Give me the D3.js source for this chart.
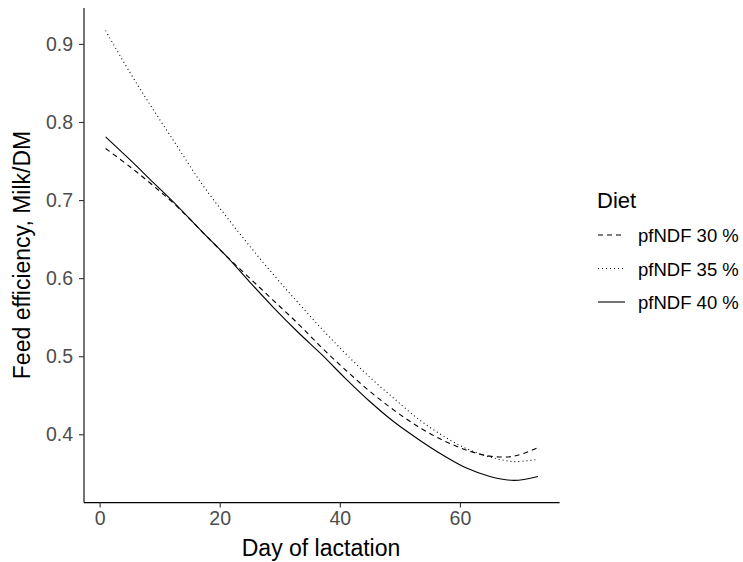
<!DOCTYPE html>
<meta charset="utf-8">
<script src="https://d3js.org/d3.v7.min.js"></script>
<style>
  body { margin: 0; background: #fff; }
  text { font-family: "Liberation Sans", Arial, sans-serif; }
</style>
<div id="my_dataviz"></div>
<script>

// day of lactation
var days = [1, 5, 9, 13, 17, 21, 25, 29, 33, 37, 41, 45, 49, 53, 57, 61, 65, 69, 73];

// feed efficiency per diet
var pf30 = [0.766, 0.743, 0.718, 0.691, 0.660, 0.629, 0.600, 0.571, 0.542, 0.511,
            0.482, 0.455, 0.431, 0.410, 0.393, 0.380, 0.372, 0.372, 0.383];
var pf35 = [0.917, 0.864, 0.815, 0.768, 0.721, 0.680, 0.641, 0.604, 0.569, 0.535,
            0.503, 0.473, 0.446, 0.420, 0.399, 0.382, 0.371, 0.365, 0.368];
var pf40 = [0.781, 0.752, 0.722, 0.692, 0.660, 0.629, 0.595, 0.562, 0.531, 0.502,
            0.471, 0.442, 0.416, 0.394, 0.374, 0.357, 0.346, 0.341, 0.346];

var dietLabels = ["pfNDF 30 %", "pfNDF 35 %", "pfNDF 40 %"];
var dashes = ["5,4", "1,3", null];
var xTicks = [0, 20, 40, 60];
var yTicks = [0.4, 0.5, 0.6, 0.7, 0.8, 0.9];

var series = [pf30, pf35, pf40];

var W = 743, H = 562;
var svg = d3.select("#my_dataviz")
  .append("svg")
    .attr("width", W)
    .attr("height", H);

var x = d3.scaleLinear().domain([-2.6, 76.6]).range([84, 559.6]);
var y = d3.scaleLinear().domain([0.3125, 0.946]).range([502.6, 8]);

// X axis
var gx = svg.append("g")
  .attr("transform", "translate(0,502.6)")
  .call(d3.axisBottom(x).tickValues(xTicks).tickSize(5).tickPadding(4));
gx.select(".domain").attr("stroke", "#000").attr("stroke-width", 1.1)
  .attr("d", "M84,0H559.6");
gx.selectAll(".tick line").attr("stroke", "#333").attr("stroke-width", 1.1);
gx.selectAll(".tick text").attr("fill", "#4d4d4d").attr("font-size", "19.5px")
  .attr("font-family", "Liberation Sans, Arial, sans-serif");

// Y axis
var gy = svg.append("g")
  .attr("transform", "translate(84,0)")
  .call(d3.axisLeft(y).tickValues(yTicks).tickFormat(d3.format(".1f")).tickSize(5).tickPadding(6));
gy.select(".domain").attr("stroke", "#000").attr("stroke-width", 1.1)
  .attr("d", "M0,502.6V8");
gy.selectAll(".tick line").attr("stroke", "#333").attr("stroke-width", 1.1);
gy.selectAll(".tick text").attr("fill", "#4d4d4d").attr("font-size", "19.5px")
  .attr("font-family", "Liberation Sans, Arial, sans-serif");

// axis titles
svg.append("text")
  .attr("x", 321).attr("y", 556)
  .attr("text-anchor", "middle")
  .attr("font-size", "23px")
  .text("Day of lactation");

svg.append("text")
  .attr("transform", "translate(30,255)rotate(-90)")
  .attr("text-anchor", "middle")
  .attr("font-size", "23px")
  .text("Feed efficiency, Milk/DM");

// lines
var line = d3.line()
  .x(function(d) { return x(d[0]); })
  .y(function(d) { return y(d[1]); })
  .curve(d3.curveCatmullRom);

series.forEach(function(s, i) {
  svg.append("path")
    .datum(days.map(function(d, j) { return [d, s[j]]; }))
    .attr("fill", "none")
    .attr("stroke", "#000")
    .attr("stroke-width", 1.1)
    .attr("stroke-dasharray", dashes[i])
    .attr("d", line);
});

// legend
var legend = svg.append("g").attr("transform", "translate(597,0)");
legend.append("text")
  .attr("x", 0).attr("y", 208)
  .attr("font-size", "22px")
  .text("Diet");

dietLabels.forEach(function(lab, i) {
  var ly = 235 + i * 33.5;
  legend.append("line")
    .attr("x1", 1).attr("x2", 28)
    .attr("y1", ly).attr("y2", ly)
    .attr("stroke", "#000")
    .attr("stroke-width", 1.1)
    .attr("stroke-dasharray", dashes[i]);
  legend.append("text")
    .attr("x", 41).attr("y", ly + 7)
    .attr("font-size", "18.5px")
    .text(lab);
});

</script>
